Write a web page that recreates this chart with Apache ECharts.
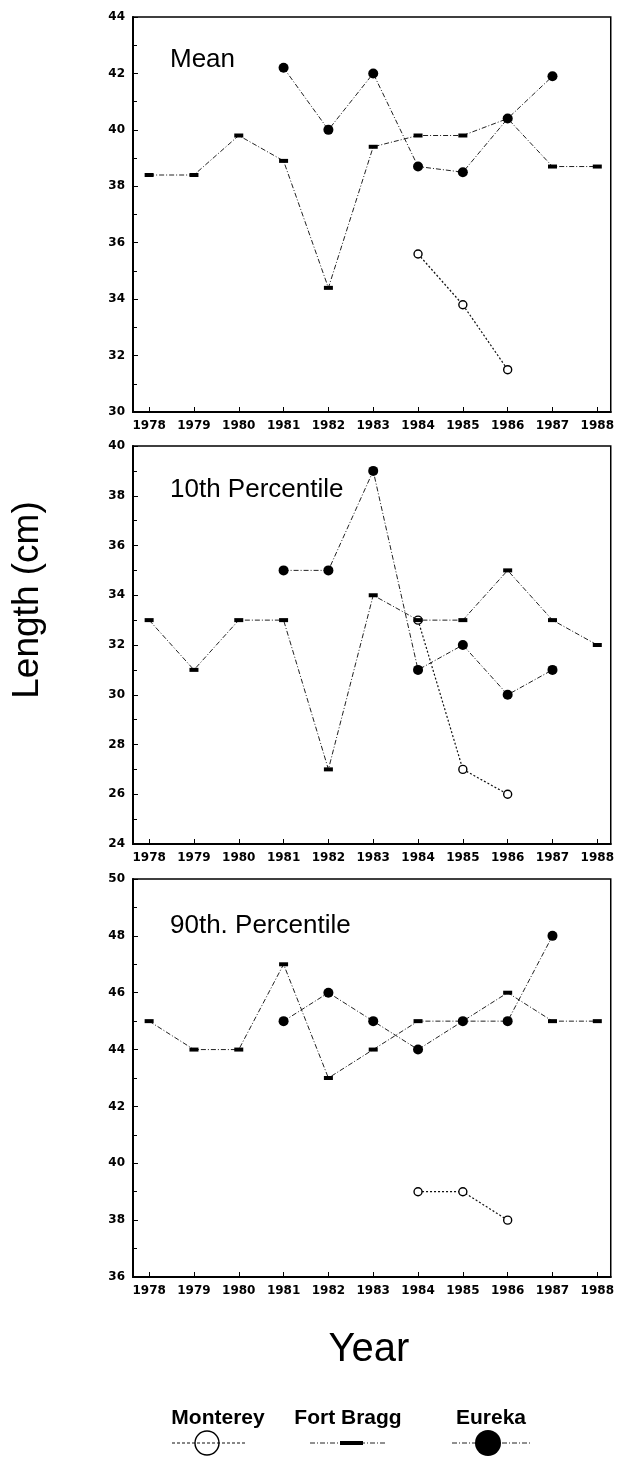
<!DOCTYPE html>
<html>
<head>
<meta charset="utf-8">
<script src="https://cdn.jsdelivr.net/npm/echarts@6/dist/echarts.min.js"></script>
<style>
  html, body { margin: 0; padding: 0; background: #fff; }
  #chart { width: 617px; height: 1457px; }
</style>
</head>
<body>
<div id="chart"></div>
<script>
// Fish length by year and port: mean, 10th and 90th percentile (cm)
const years = [1978, 1979, 1980, 1981, 1982, 1983, 1984, 1985, 1986, 1987, 1988];

const meanMonterey  = [null, null, null, null, null, null, 35.6, 33.8, 31.5, null, null];
const meanFortBragg = [38.4, 38.4, 39.8, 38.9, 34.4, 39.4, 39.8, 39.8, 40.4, 38.7, 38.7];
const meanEureka    = [null, null, null, 42.2, 40.0, 42.0, 38.7, 38.5, 40.4, 41.9, null];

const p10Monterey  = [null, null, null, null, null, null, 33, 27, 26, null, null];
const p10FortBragg = [33, 31, 33, 33, 27, 34, 33, 33, 35, 33, 32];
const p10Eureka    = [null, null, null, 35, 35, 39, 31, 32, 30, 31, null];

const p90Monterey  = [null, null, null, null, null, null, 39, 39, 38, null, null];
const p90FortBragg = [45, 44, 44, 47, 43, 44, 45, 45, 46, 45, 45];
const p90Eureka    = [null, null, null, 45, 46, 45, 44, 45, 45, 48, null];

const panelTitles = ['Mean', '10th Percentile', '90th. Percentile'];
const yRanges = [[30, 44], [24, 40], [36, 50]];
const portNames = ['Monterey', 'Fort Bragg', 'Eureka'];

const panels = [
  [meanMonterey, meanFortBragg, meanEureka],
  [p10Monterey, p10FortBragg, p10Eureka],
  [p90Monterey, p90FortBragg, p90Eureka]
];

const gridBoxes = [
  { top: 17,  height: 395 },
  { top: 446, height: 398 },
  { top: 879, height: 398 }
];
const titleTops = [42, 472, 908];

const labelFont = { fontFamily: 'DejaVu Sans', fontWeight: 'bold', fontSize: 12, color: '#000' };
const dashDot = [5, 2, 1, 2];

function pairs(values) {
  const out = [];
  values.forEach((v, i) => { if (v !== null) out.push([years[i], v]); });
  return out;
}

const grid = [], xAxis = [], yAxis = [], series = [], title = [];

gridBoxes.forEach((g, i) => {
  grid.push({
    left: 133, width: 478, top: g.top, height: g.height,
    show: true, borderColor: '#000', borderWidth: 1.5, backgroundColor: 'transparent'
  });
  xAxis.push({
    type: 'value', gridIndex: i, min: 1977.64, max: 1988.3,
    axisLine: { show: true, onZero: false, lineStyle: { color: '#000', width: 2 } },
    axisTick: { show: true, inside: true, length: 5, customValues: years, lineStyle: { color: '#000', width: 1 } },
    axisLabel: Object.assign({ customValues: years, margin: 8, formatter: v => String(Math.round(v)) }, labelFont),
    splitLine: { show: false }
  });
  yAxis.push({
    type: 'value', gridIndex: i, min: yRanges[i][0], max: yRanges[i][1], interval: 2,
    axisLine: { show: true, onZero: false, lineStyle: { color: '#000', width: 2 } },
    axisTick: { show: true, inside: true, length: 5, lineStyle: { color: '#000', width: 1 } },
    minorTick: { show: true, splitNumber: 2, length: 4, lineStyle: { color: '#000', width: 1 } },
    axisLabel: Object.assign({ margin: 8 }, labelFont),
    splitLine: { show: false }
  });
  title.push({
    text: panelTitles[i], left: 165, top: titleTops[i],
    textStyle: { fontFamily: 'Liberation Sans', fontWeight: 'normal', fontSize: 26, color: '#000' }
  });

  const [mont, fort, eur] = panels[i];
  series.push({
    name: portNames[0], type: 'line', xAxisIndex: i, yAxisIndex: i, data: pairs(mont),
    symbol: 'circle', symbolSize: 8,
    itemStyle: { color: '#fff', borderColor: '#000', borderWidth: 1.4 },
    lineStyle: { color: '#111', width: 1.2, type: [2, 2] }, z: 3
  });
  series.push({
    name: portNames[1], type: 'line', xAxisIndex: i, yAxisIndex: i, data: pairs(fort),
    symbol: 'rect', symbolSize: [9, 4],
    itemStyle: { color: '#000' },
    lineStyle: { color: '#222', width: 1, type: dashDot }, z: 4
  });
  series.push({
    name: portNames[2], type: 'line', xAxisIndex: i, yAxisIndex: i, data: pairs(eur),
    symbol: 'circle', symbolSize: 10,
    itemStyle: { color: '#000' },
    lineStyle: { color: '#222', width: 1, type: dashDot }, z: 5
  });
});

// Shared axis titles and the key under the panels
const bigText = { fontFamily: 'Liberation Sans', fill: '#000', align: 'center', verticalAlign: 'middle' };
const keyText = Object.assign({ fontSize: 21, fontWeight: 'bold' }, bigText);
const keyY = 1443;
const graphic = [
  { type: 'text', x: 28, y: 600, rotation: Math.PI / 2,
    style: Object.assign({ text: 'Length (cm)', fontSize: 37 }, bigText) },
  { type: 'text', x: 369, y: 1350,
    style: Object.assign({ text: 'Year', fontSize: 40 }, bigText) },

  { type: 'text', x: 218, y: 1418, style: Object.assign({ text: portNames[0] }, keyText) },
  { type: 'line', shape: { x1: 172, y1: keyY, x2: 247, y2: keyY },
    style: { stroke: '#111', lineWidth: 1.2, lineDash: [3, 2] } },
  { type: 'circle', shape: { cx: 207, cy: keyY, r: 12 },
    style: { fill: 'rgba(255,255,255,0)', stroke: '#000', lineWidth: 1.4 } },

  { type: 'text', x: 348, y: 1418, style: Object.assign({ text: portNames[1] }, keyText) },
  { type: 'line', shape: { x1: 310, y1: keyY, x2: 387, y2: keyY },
    style: { stroke: '#222', lineWidth: 1, lineDash: dashDot } },
  { type: 'rect', shape: { x: 340, y: keyY - 2, width: 23, height: 4 },
    style: { fill: '#000' } },

  { type: 'text', x: 491, y: 1418, style: Object.assign({ text: portNames[2] }, keyText) },
  { type: 'line', shape: { x1: 452, y1: keyY, x2: 530, y2: keyY },
    style: { stroke: '#222', lineWidth: 1, lineDash: dashDot } },
  { type: 'circle', shape: { cx: 488, cy: keyY, r: 13 },
    style: { fill: '#000' } }
];

const chart = echarts.init(document.getElementById('chart'), null, { renderer: 'canvas' });
chart.setOption({
  animation: false,
  backgroundColor: '#fff',
  title, grid, xAxis, yAxis, series, graphic
});
</script>
</body>
</html>
